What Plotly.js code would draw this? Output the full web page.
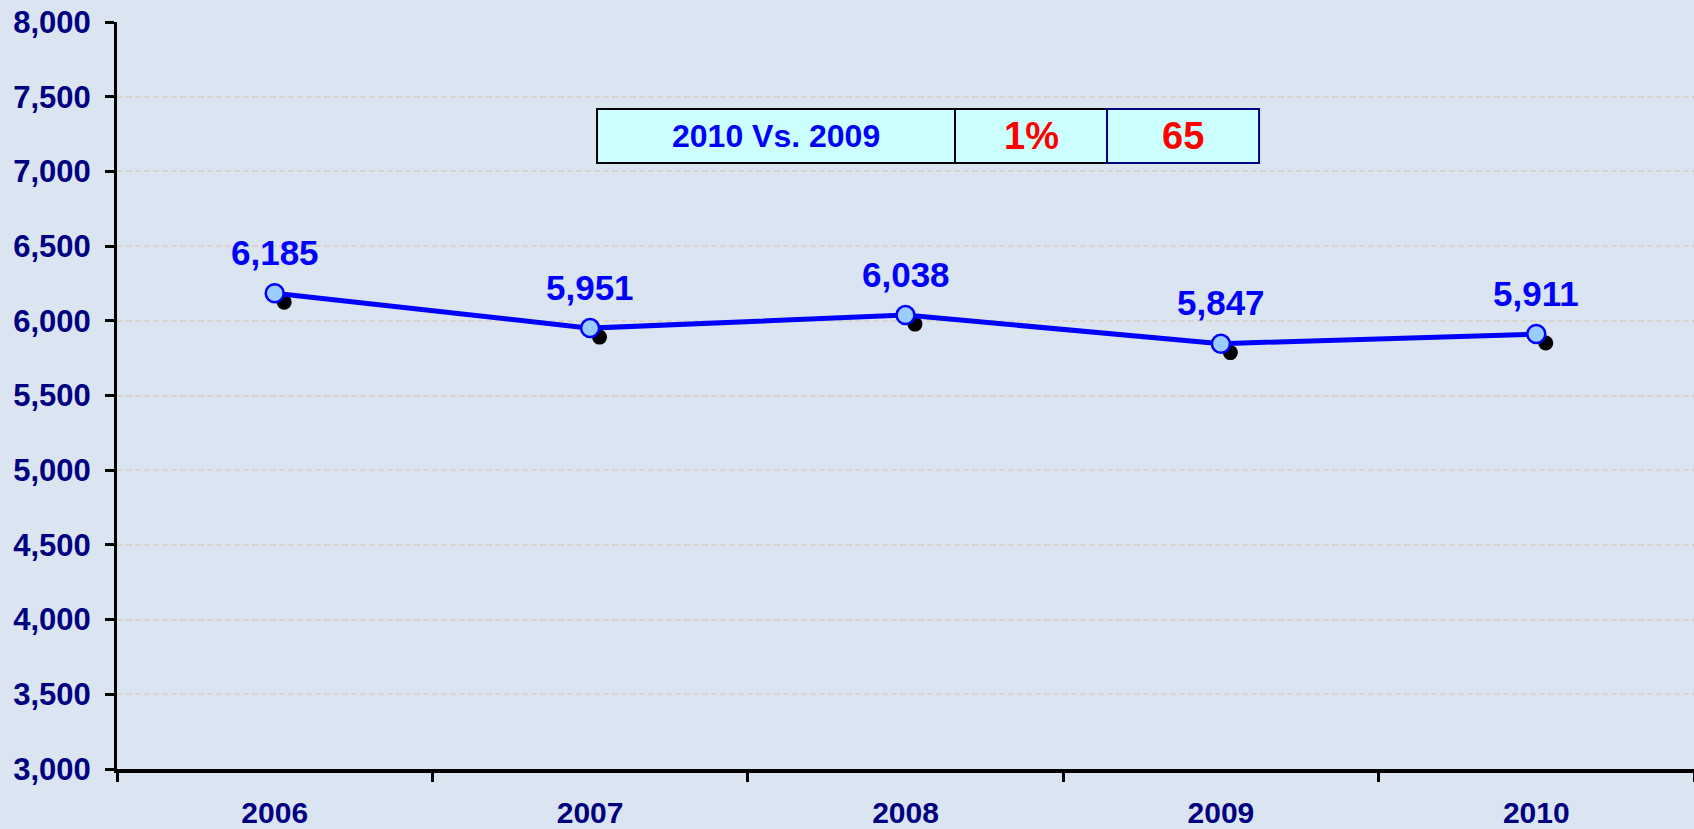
<!DOCTYPE html>
<html>
<head>
<meta charset="utf-8">
<script src="https://cdn.plot.ly/plotly-3.0.1.min.js"></script>
<style>
  html, body { margin: 0; padding: 0; background: rgb(219,229,241); }
  #chart { width: 1694px; height: 829px; }
</style>
</head>
<body>
<div id="chart"></div>
<script>
// ---- data ----
const years = ['2006', '2007', '2008', '2009', '2010'];
const values = [6185, 5951, 6038, 5847, 5911];
const yTicks = [3000, 3500, 4000, 4500, 5000, 5500, 6000, 6500, 7000, 7500, 8000];
const tableLabel = '2010 Vs. 2009';
const tablePct = '1%';
const tableDiff = '65';

const bg = 'rgb(219,229,241)';
const navy = '#000080';
const fontMain = 'Liberation Sans, Arial, sans-serif';

const yRange = [3000, 8000];
const xRange = [-0.5, 4.5];
const shadowDx = 0.03;   // shadow offset along x (category units)
const shadowDy = 60;     // shadow offset along y (value units)

const traces = [
  { // base trace holding the category axis
    x: years, y: values, xaxis: 'x', yaxis: 'y',
    type: 'scatter', mode: 'none', hoverinfo: 'skip'
  },
  { // shadow of markers
    x: years, y: values, xaxis: 'x2', yaxis: 'y2',
    type: 'scatter', mode: 'markers', hoverinfo: 'skip',
    marker: { size: 15, color: '#000000' }
  },
  { // main line
    x: years, y: values, xaxis: 'x3', yaxis: 'y3',
    type: 'scatter', mode: 'lines+markers',
    line: { color: '#0000ff', width: 5 },
    marker: { size: 18, color: '#99ccff', line: { color: '#0000ff', width: 2.5 } }
  }
];

const annotations = years.map((yr, i) => ({
  x: i, y: values[i], xref: 'x', yref: 'y',
  text: values[i].toLocaleString('en-US'),
  showarrow: false, xanchor: 'center', yanchor: 'middle', yshift: 41,
  font: { family: fontMain, size: 35, color: '#0000ff', weight: 'bold' }
}));

// table (paper coords)
const cells = [
  { x0: 0.3044, x1: 0.5314, text: tableLabel, color: '#0000ff', size: 32, lc: '#000000' },
  { x0: 0.5314, x1: 0.6278, text: tablePct, color: '#ff0000', size: 38, lc: '#000000' },
  { x0: 0.6278, x1: 0.7242, text: tableDiff, color: '#ff0000', size: 38, lc: navy }
];
const ty0 = 0.8113, ty1 = 0.8835;
const shapes = cells.map(c => ({
  type: 'rect', xref: 'paper', yref: 'paper',
  x0: c.x0, x1: c.x1, y0: ty0, y1: ty1,
  fillcolor: '#ccffff', line: { color: c.lc, width: 2 }, layer: 'above'
}));
cells.forEach(c => annotations.push({
  xref: 'paper', yref: 'paper', x: (c.x0 + c.x1) / 2, y: (ty0 + ty1) / 2,
  text: c.text, showarrow: false, xanchor: 'center', yanchor: 'middle',
  font: { family: fontMain, size: c.size, color: c.color, weight: 'bold' }
}));

const layout = {
  width: 1694, height: 829,
  margin: { l: 117, r: 0, t: 22, b: 60 },
  paper_bgcolor: bg, plot_bgcolor: bg,
  showlegend: false,
  xaxis: {
    type: 'category', categoryarray: years, range: xRange, fixedrange: true,
    showline: true, linecolor: '#000000', linewidth: 4,
    ticks: 'outside', tickson: 'boundaries', ticklen: 9, tickwidth: 3, tickcolor: '#000000',
    showgrid: false, zeroline: false,
    tickfont: { family: fontMain, size: 30, color: navy, weight: 'bold' },
    ticklabelstandoff: 14
  },
  yaxis: {
    range: yRange, tickvals: yTicks, ticktext: yTicks.map(v => v.toLocaleString('en-US')),
    showline: true, linecolor: '#000000', linewidth: 3,
    ticks: 'outside', ticklen: 9, tickwidth: 3, tickcolor: '#000000',
    showgrid: true, gridcolor: 'rgb(216,213,206)', gridwidth: 2, griddash: '6px,3px',
    zeroline: false,
    tickfont: { family: fontMain, size: 31, color: navy, weight: 'bold' },
    ticklabelstandoff: 8
  },
  xaxis2: { type: 'category', categoryarray: years, overlaying: 'x', range: [xRange[0] - shadowDx, xRange[1] - shadowDx], visible: false },
  yaxis2: { overlaying: 'y', range: [yRange[0] + shadowDy, yRange[1] + shadowDy], visible: false },
  xaxis3: { type: 'category', categoryarray: years, overlaying: 'x', range: xRange, visible: false },
  yaxis3: { overlaying: 'y', range: yRange, visible: false },
  shapes: shapes,
  annotations: annotations
};

Plotly.newPlot('chart', traces, layout, { displayModeBar: false, staticPlot: true });
</script>
</body>
</html>
